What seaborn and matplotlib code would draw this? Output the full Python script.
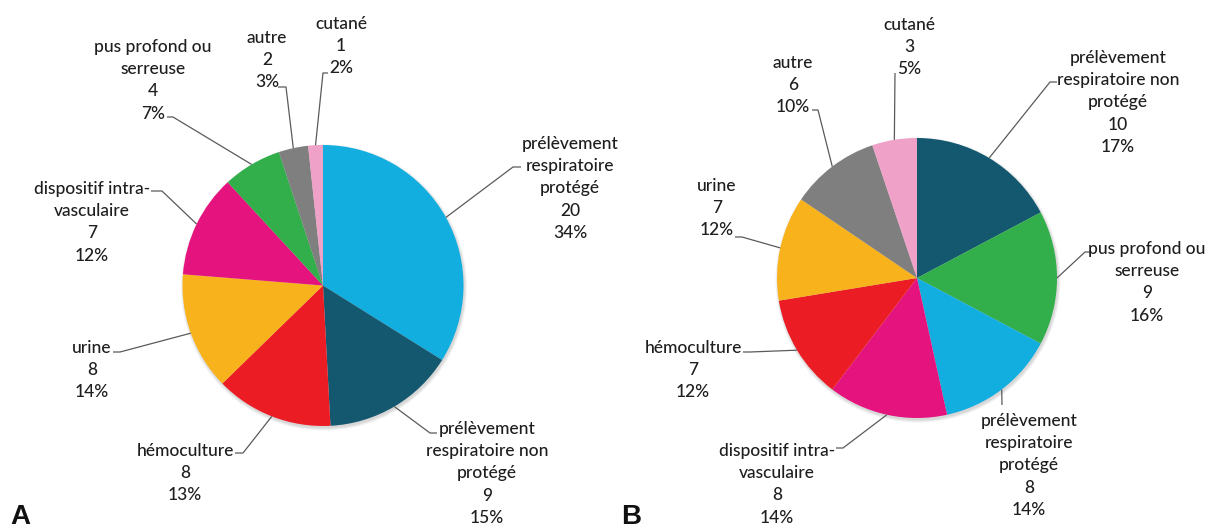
import numpy as np
import matplotlib
matplotlib.use("Agg")
import matplotlib.pyplot as plt
from matplotlib.patches import Circle
import seaborn as sns

sns.set_theme(style="white")
plt.rcParams["font.family"] = ["Lato", "DejaVu Sans"]

# ---- data -----------------------------------------------------------------
cat_protege = ["prélèvement", "respiratoire", "protégé"]
cat_non_protege = ["prélèvement", "respiratoire non", "protégé"]
cat_hemo = ["hémoculture"]
cat_urine = ["urine"]
cat_dispositif = ["dispositif intra-", "vasculaire"]
cat_pus = ["pus profond ou", "serreuse"]
cat_autre = ["autre"]
cat_cutane = ["cutané"]

# panel A (clockwise from 12 o'clock)
a_categories = [cat_protege, cat_non_protege, cat_hemo, cat_urine,
                cat_dispositif, cat_pus, cat_autre, cat_cutane]
a_counts = [20, 9, 8, 8, 7, 4, 2, 1]
a_percent = [34, 15, 13, 14, 12, 7, 3, 2]

# panel B (clockwise from 12 o'clock)
b_categories = [cat_non_protege, cat_pus, cat_protege, cat_dispositif,
                cat_hemo, cat_urine, cat_autre, cat_cutane]
b_counts = [10, 9, 8, 8, 7, 7, 6, 3]
b_percent = [17, 16, 14, 14, 12, 12, 10, 5]

colors = {
    "protege": "#12AEDF",
    "non_protege": "#13586F",
    "hemo": "#EC1C24",
    "urine": "#F8B21C",
    "dispositif": "#E5137E",
    "pus": "#32AE4A",
    "autre": "#7F7F7F",
    "cutane": "#EFA1C8",
}
a_keys = ["protege", "non_protege", "hemo", "urine", "dispositif", "pus", "autre", "cutane"]
b_keys = ["non_protege", "pus", "protege", "dispositif", "hemo", "urine", "autre", "cutane"]

# ---- layout (pixel space, y measured from the top) ------------------------
W, H = 1212, 529
LINE = 22.2

# label block: centre x, first-line y, leader start (at text), leader elbow
a_layout = [
    (570, 143, (521, 167), (513, 167)),
    (487, 428, (437, 433), (430, 433)),
    (185, 450, (235, 453), (243, 453)),
    (92, 347, (113, 352), (120, 352)),
    (92, 188, (151, 191), (162, 191)),
    (153, 46, (167, 117), (173, 117)),
    (267, 37, (278, 87), (286, 87)),
    (341, 23, (328, 73), (323, 73)),
]
b_layout = [
    (1118, 57, (1057, 82), (1050, 82)),
    (1147, 248, (1092, 252), (1085, 252)),
    (1029, 420, (1002, 405), (1002, 405)),
    (777, 450, (836, 448), (843, 448)),
    (693, 347, (743, 352), (750, 352)),
    (717, 185, (735, 237), (742, 237)),
    (793, 62, (812, 110), (818, 110)),
    (909, 24, (895, 73), (895, 73)),
]

fig = plt.figure(figsize=(W / 100, H / 100), dpi=100)
ax = fig.add_axes([0, 0, 1, 1])

TEXT = "#1e1e1e"
LEAD = "#5a5a5a"


def Y(y):
    return H - y


def draw_panel(center, radius, counts, keys, cats, pcts, layout):
    cx, cy = center[0], Y(center[1])
    # soft drop shadow under the disc
    for i in range(8):
        ax.add_patch(Circle((cx + 1.0, cy - 2.0), radius + 0.4 * i,
                            facecolor="black", edgecolor="none",
                            alpha=0.018, zorder=1))
    palette = sns.color_palette([colors[k] for k in keys])
    wedges, _ = ax.pie(counts, colors=palette, startangle=90,
                       counterclock=False, center=(cx, cy), radius=radius,
                       wedgeprops=dict(linewidth=0, edgecolor="none"))
    for w in wedges:
        w.set_zorder(2)
    for w, cat, n, p, (tx, ty, start, elbow) in zip(wedges, cats, counts, pcts, layout):
        mid = np.deg2rad((w.theta1 + w.theta2) / 2)
        px = cx + radius * np.cos(mid)
        py = cy + radius * np.sin(mid)
        ax.plot([start[0], elbow[0], px], [Y(start[1]), Y(elbow[1]), py],
                color=LEAD, lw=0.9, solid_capstyle="butt", zorder=3)
        lines = list(cat) + [str(n), f"{p}%"]
        for i, s in enumerate(lines):
            ax.text(tx, Y(ty + i * LINE + 6), s, ha="center", va="baseline",
                    fontsize=12.5, fontweight="medium", color=TEXT, zorder=4)


draw_panel((323, 285.5), 140.5, a_counts, a_keys, a_categories, a_percent, a_layout)
draw_panel((917, 278), 140, b_counts, b_keys, b_categories, b_percent, b_layout)

ax.text(10, Y(524), "A", ha="left", va="baseline", fontsize=20,
        fontweight="bold", family=["Liberation Sans", "DejaVu Sans"], color="#111111")
ax.text(621, Y(524), "B", ha="left", va="baseline", fontsize=20,
        fontweight="bold", family=["Liberation Sans", "DejaVu Sans"], color="#111111")

ax.set_xlim(0, W)
ax.set_ylim(0, H)
ax.set_aspect("equal")
ax.axis("off")

fig.savefig("out.png", dpi=100, facecolor="white")
